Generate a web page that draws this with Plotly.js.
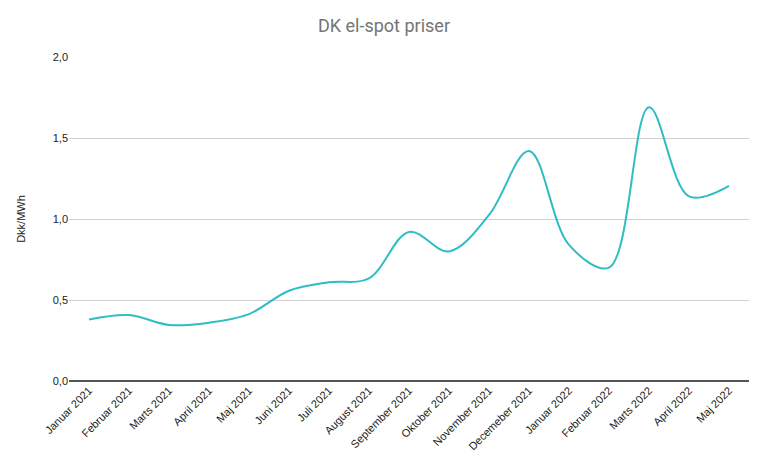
<!DOCTYPE html>
<html>
<head>
<meta charset="utf-8">
<script src="https://cdn.plot.ly/plotly-3.0.1.min.js"></script>
<style>
  html, body { margin: 0; padding: 0; background: #fff; }
  #chart { width: 768px; height: 467px; }
</style>
</head>
<body>
<div id="chart"></div>
<script>
// months and average spot prices
const months = [
  'Januar 2021', 'Februar 2021', 'Marts 2021', 'April 2021', 'Maj 2021',
  'Juni 2021', 'Juli 2021', 'August 2021', 'September 2021', 'Oktober 2021',
  'November 2021', 'Decemeber 2021', 'Januar 2022', 'Februar 2022',
  'Marts 2022', 'April 2022', 'Maj 2022'
];
const prices = [
  0.38, 0.407, 0.346, 0.36, 0.413,
  0.557, 0.609, 0.634, 0.92, 0.80,
  1.025, 1.42, 0.84, 0.70,
  1.69, 1.14, 1.205
];
const yTicks = [0, 0.5, 1, 1.5, 2];

var trace1 = {
  x: months,
  y: prices,
  type: 'scatter',
  mode: 'lines',
  line: { color: '#2ebdc4', width: 2, shape: 'spline', smoothing: 1 },
  hoverinfo: 'x+y'
};

var layout = {
  width: 768,
  height: 467,
  separators: ',.',
  font: { family: '"Liberation Sans", Arial, sans-serif', size: 11, color: '#222' },
  title: {
    text: 'DK el-spot priser',
    font: { family: 'Roboto, "Liberation Sans", sans-serif', size: 18, color: '#757575' },
    x: 0.5,
    xanchor: 'center',
    y: 0.945,
    yanchor: 'middle'
  },
  margin: { l: 69, r: 19, t: 57, b: 86 },
  showlegend: false,
  plot_bgcolor: '#fff',
  paper_bgcolor: '#fff',
  xaxis: {
    type: 'category',
    range: [-0.5, months.length - 0.5],
    tickangle: -45,
    showgrid: false,
    showline: false,
    zeroline: false,
    ticks: '',
    tickfont: { family: '"Liberation Sans", Arial, sans-serif', size: 11, color: '#222' }
  },
  yaxis: {
    title: {
      text: 'Dkk/MWh',
      font: { family: '"Liberation Sans", Arial, sans-serif', size: 11, color: '#222' },
      standoff: 24
    },
    range: [0, 2],
    tickvals: yTicks,
    tickformat: '.1f',
    showgrid: true,
    gridcolor: '#d0d0d0',
    gridwidth: 1,
    zeroline: true,
    zerolinecolor: '#555',
    zerolinewidth: 1.5,
    ticks: '',
    tickfont: { family: '"Liberation Sans", Arial, sans-serif', size: 11, color: '#222' }
  }
};

Plotly.newPlot('chart', [trace1], layout, { displayModeBar: false, staticPlot: true });
</script>
</body>
</html>
